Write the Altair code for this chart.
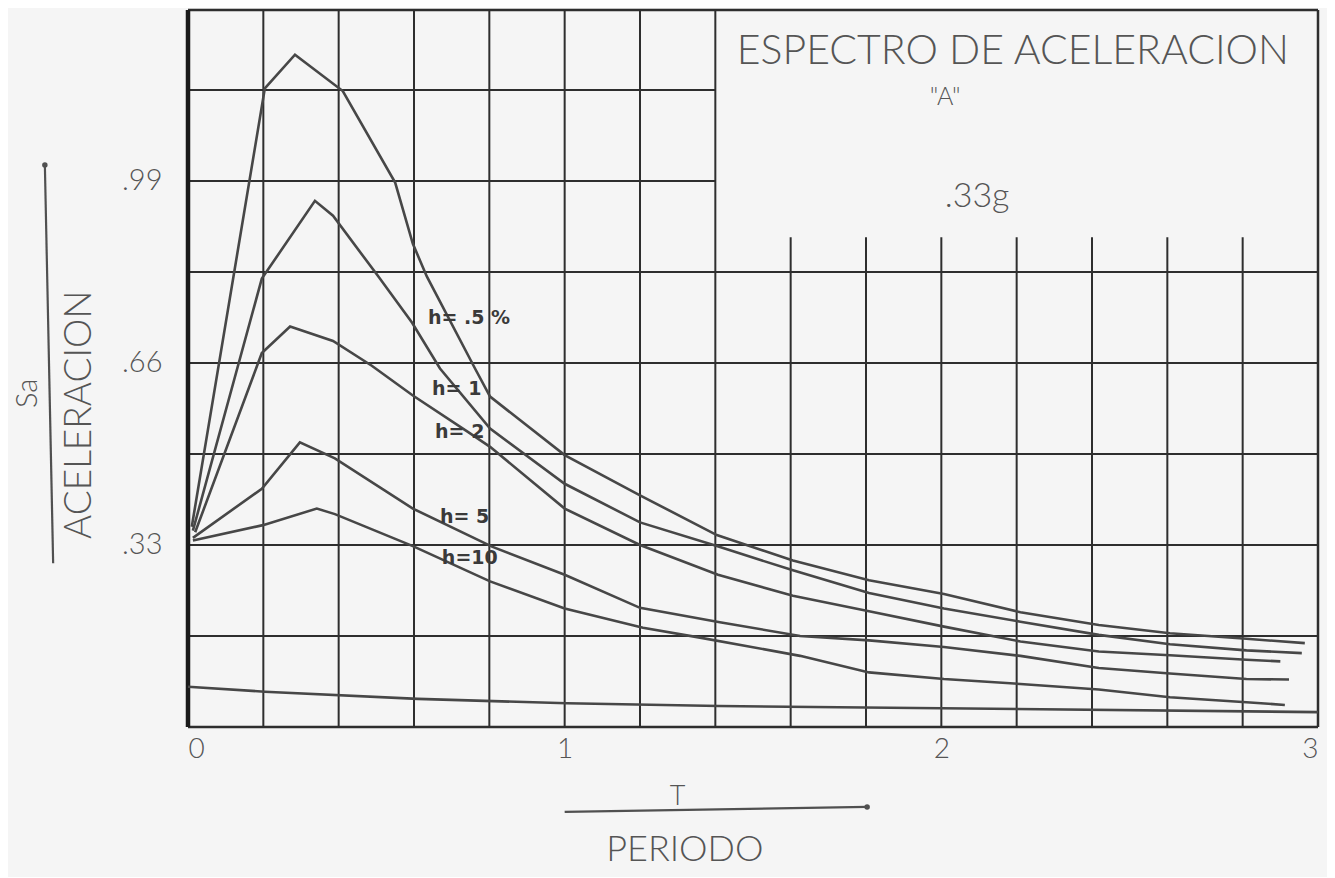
import altair as alt
import pandas as pd

# ---- curve data (periodo T in s, Sa in g) ----
T_H05 = [0.01, 0.204, 0.284, 0.411, 0.55, 0.597, 0.634, 0.762, 0.802, 1.0, 1.2, 1.404, 1.606, 1.808, 2.007, 2.21, 2.418, 2.607, 2.81, 2.965]
SA_H05 = [0.363, 1.158, 1.219, 1.153, 0.987, 0.876, 0.817, 0.650, 0.599, 0.493, 0.420, 0.348, 0.302, 0.266, 0.241, 0.208, 0.185, 0.170, 0.160, 0.152]

T_H1 = [0.013, 0.196, 0.337, 0.385, 0.504, 0.595, 0.669, 0.802, 1.0, 1.2, 1.404, 1.606, 1.808, 2.007, 2.21, 2.418, 2.607, 2.81, 2.957]
SA_H1 = [0.356, 0.813, 0.954, 0.927, 0.818, 0.733, 0.650, 0.541, 0.441, 0.371, 0.328, 0.284, 0.243, 0.215, 0.191, 0.167, 0.150, 0.139, 0.134]

T_H2 = [0.019, 0.196, 0.271, 0.385, 0.488, 0.597, 0.741, 0.802, 1.0, 1.2, 1.407, 1.606, 1.808, 2.007, 2.21, 2.418, 2.607, 2.81, 2.9]
SA_H2 = [0.353, 0.678, 0.726, 0.700, 0.655, 0.601, 0.536, 0.508, 0.396, 0.330, 0.276, 0.238, 0.210, 0.182, 0.155, 0.137, 0.130, 0.122, 0.119]

T_H5 = [0.013, 0.196, 0.297, 0.39, 0.597, 0.807, 1.0, 1.2, 1.412, 1.625, 1.808, 2.007, 2.21, 2.418, 2.607, 2.81, 2.923]
SA_H5 = [0.343, 0.432, 0.516, 0.487, 0.396, 0.327, 0.276, 0.216, 0.190, 0.165, 0.157, 0.145, 0.129, 0.107, 0.097, 0.087, 0.086]

T_H10 = [0.013, 0.199, 0.342, 0.39, 0.597, 0.802, 1.0, 1.208, 1.359, 1.625, 1.808, 2.007, 2.21, 2.418, 2.607, 2.81, 2.912]
SA_H10 = [0.338, 0.366, 0.396, 0.386, 0.328, 0.264, 0.215, 0.180, 0.162, 0.129, 0.099, 0.087, 0.078, 0.068, 0.054, 0.045, 0.040]

T_BASE = [0.0, 0.204, 0.61, 1.006, 1.41, 3.0]
SA_BASE = [0.073, 0.064, 0.051, 0.043, 0.038, 0.027]

# ---- axis / grid values ----
X_TICKS = [0, 1, 2, 3]
Y_TICKS = [0.33, 0.66, 0.99]
GRID_T = [0.2, 0.4, 0.6, 0.8, 1.0, 1.2, 1.4, 1.6, 1.8, 2.0, 2.2, 2.4, 2.6, 2.8]
GRID_SA = [0.165, 0.33, 0.495, 0.66, 0.825, 0.99, 1.155]
T_MAX = 3.0
SA_MAX = 1.30
TITLE_BOX_T = 1.4       # grid stops here in the title box
SHORT_LINE_TOP = 0.888  # short vertical lines under the title

# ---- labels ----
H_LABELS = ["h= .5 %", "h= 1", "h= 2", "h= 5", "h=10"]
H_LABEL_T = [0.637, 0.648, 0.656, 0.669, 0.674]
H_LABEL_SA = [0.742, 0.613, 0.535, 0.381, 0.307]

series = [("h=.5", T_H05, SA_H05), ("h=1", T_H1, SA_H1), ("h=2", T_H2, SA_H2),
          ("h=5", T_H5, SA_H5), ("h=10", T_H10, SA_H10), ("base", T_BASE, SA_BASE)]
rows = []
for name, ts, ss in series:
    for t, s in zip(ts, ss):
        rows.append({"serie": name, "T": t, "Sa": s})
curves = pd.DataFrame(rows)

grid_rows = []
for t in GRID_T:
    grid_rows.append({"x": t, "x2": t, "y": 0.0, "y2": SA_MAX if t <= TITLE_BOX_T + 1e-9 else SHORT_LINE_TOP})
for s in GRID_SA:
    grid_rows.append({"x": 0.0, "x2": T_MAX if s < SHORT_LINE_TOP else TITLE_BOX_T, "y": s, "y2": s})
grid = pd.DataFrame(grid_rows)

frame = pd.DataFrame([
    {"x": 0.0, "x2": T_MAX, "y": 0.0, "y2": 0.0},
    {"x": 0.0, "x2": T_MAX, "y": SA_MAX, "y2": SA_MAX},
    {"x": T_MAX, "x2": T_MAX, "y": 0.0, "y2": SA_MAX},
])
left_border = pd.DataFrame([{"x": 0.0, "x2": 0.0, "y": 0.0, "y2": SA_MAX}])

xs = alt.Scale(domain=[0, T_MAX], nice=False, zero=False)
ys = alt.Scale(domain=[0, SA_MAX], nice=False, zero=False)
INK = "#2e2e2e"
TXT = "#555555"
FONT = "Lato"

X_AXIS = alt.Axis(values=X_TICKS, format="d", grid=False, ticks=False, domain=False,
                  labelFontSize=28, labelFont=FONT, labelFontWeight=300, labelColor=TXT,
                  labelPadding=8, title=None)
Y_AXIS = alt.Axis(values=Y_TICKS, grid=False, ticks=False, domain=False,
                  labelExpr="substring(format(datum.value, '.2f'), 1)",
                  labelFontSize=29, labelFont=FONT, labelFontWeight=300, labelColor=TXT,
                  labelPadding=26, title=None)


def X(field):
    return alt.X(field, scale=xs, axis=X_AXIS)


def Y(field):
    return alt.Y(field, scale=ys, axis=Y_AXIS)


def rules(df, width, color=INK):
    return alt.Chart(df).mark_rule(color=color, strokeWidth=width).encode(
        x=X("x:Q"), x2="x2:Q", y=Y("y:Q"), y2="y2:Q")


grid_layer = rules(grid, 2)
frame_layer = rules(frame, 2.5)
left_layer = rules(left_border, 4.5, "#1a1a1a")

curve_layer = alt.Chart(curves).mark_line(color="#474747", strokeWidth=2.6).encode(
    x=X("T:Q"), y=Y("Sa:Q"), detail="serie:N")

h_df = pd.DataFrame({"T": H_LABEL_T, "Sa": H_LABEL_SA, "txt": H_LABELS})
h_layer = alt.Chart(h_df).mark_text(align="left", baseline="middle", fontSize=19, fontWeight="bold",
                                     font="DejaVu Sans", color="#3a3a3a").encode(
    x=X("T:Q"), y=Y("Sa:Q"), text="txt:N")


def label(txt, t, s, size, angle=0, align="center"):
    df = pd.DataFrame({"T": [t], "Sa": [s], "txt": [txt]})
    return alt.Chart(df).mark_text(align=align, baseline="middle", fontSize=size, font=FONT,
                                   fontWeight=300, color=TXT, angle=angle).encode(
        x=X("T:Q"), y=Y("Sa:Q"), text="txt:N")


title_layer = label("ESPECTRO DE ACELERACION", 2.19, 1.224, 41)
a_layer = label('"A"', 2.01, 1.142, 25)
g_layer = label(".33g", 2.095, 0.961, 34)
t_layer = label("T", 1.30, -0.127, 27)
periodo_layer = label("PERIODO", 1.319, -0.223, 36)
acel_layer = label("ACELERACION", -0.287, 0.566, 37, angle=270)
sa_layer = label("Sa", -0.425, 0.605, 29, angle=270)

arrows = pd.DataFrame([
    {"x": -0.358, "y": 0.297, "x2": -0.380, "y2": 1.019},
    {"x": 1.0, "y": -0.154, "x2": 1.803, "y2": -0.145},
])
arrow_lines = rules(arrows, 2.2, "#505050")
heads = pd.DataFrame([{"x": -0.380, "y": 1.019}, {"x": 1.803, "y": -0.145}])
head_layer = alt.Chart(heads).mark_point(filled=True, color="#505050", size=30, opacity=1).encode(
    x=X("x:Q"), y=Y("y:Q"))

chart = alt.layer(
    grid_layer, frame_layer, left_layer, curve_layer, h_layer,
    title_layer, a_layer, g_layer, t_layer, periodo_layer, acel_layer, sa_layer,
    arrow_lines, head_layer
).properties(
    width=1130, height=717,
    autosize=alt.AutoSizeParams(type="none"),
    padding={"left": 180, "top": 2, "right": 9, "bottom": 150},
    background="#f5f5f5",
).configure_view(strokeWidth=0)

chart.save("out.html", embed_options={"renderer": "svg", "actions": False})
